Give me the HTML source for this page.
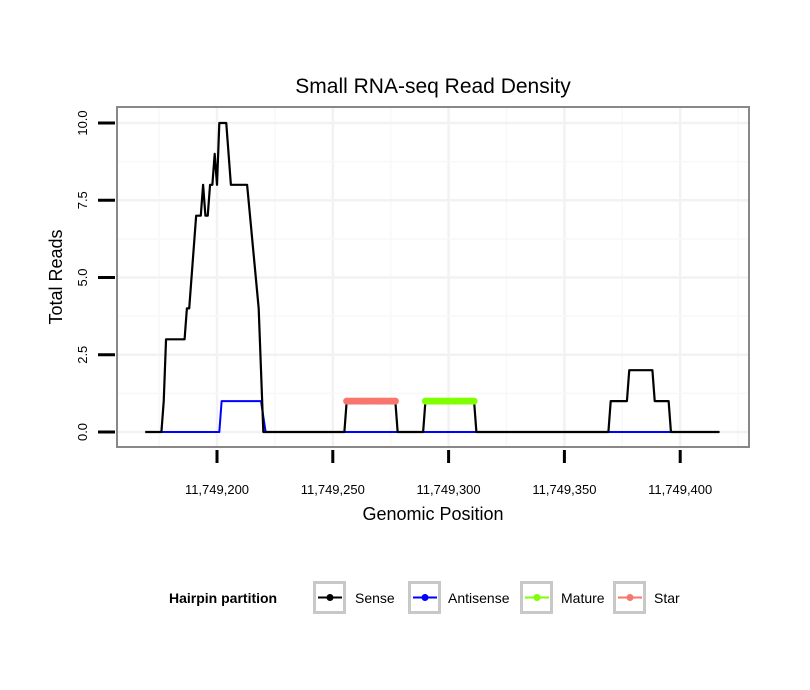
<!DOCTYPE html>
<html><head><meta charset="utf-8"><style>
body{margin:0;background:#fff;}
svg{display:block;font-family:"Liberation Sans",Arial,sans-serif;}
</style></head><body>
<svg id="chart" width="810" height="690">
<text x="433" y="93" font-size="21" text-anchor="middle">Small RNA-seq Read Density</text>
<g id="grid"></g>
<rect x="117" y="107" width="632" height="340" fill="none" stroke="#888" stroke-width="2"/>
<g id="series"></g>
<g id="axes"></g>
<text x="433" y="520" font-size="18" text-anchor="middle">Genomic Position</text>
<text transform="translate(62,277) rotate(-90)" font-size="18" text-anchor="middle">Total Reads</text>
<g>
<text x="169" y="603" font-size="14" font-weight="bold">Hairpin partition</text>
<g id="legend-keys"></g>
</g>
</svg>
<script>
const xTicks=[11749200,11749250,11749300,11749350,11749400];
const yTicks=[0,2.5,5,7.5,10];
const senseX=[11749169,11749176,11749177,11749178,11749186,11749187,11749188,11749191,11749193,11749194,11749195,11749196,11749197,11749198,11749199,11749200,11749201,11749204,11749206,11749213,11749218,11749220,11749255,11749256,11749277,11749278,11749289,11749290,11749311,11749312,11749369,11749370,11749377,11749378,11749388,11749389,11749395,11749396,11749417];
const senseY=[0,0,1,3,3,4,4,7,7,8,7,7,8,8,9,8,10,10,8,8,4,0,0,1,1,0,0,1,1,0,0,1,1,2,2,1,1,0,0];
const antiX=[11749176,11749201,11749202,11749219,11749221,11749396];
const antiY=[0,0,1,1,0,0];
const starX=[11749256,11749257,11749258,11749259,11749260,11749261,11749262,11749263,11749264,11749265,11749266,11749267,11749268,11749269,11749270,11749271,11749272,11749273,11749274,11749275,11749276,11749277];
const starY=[1,1,1,1,1,1,1,1,1,1,1,1,1,1,1,1,1,1,1,1,1,1];
const matureX=[11749290,11749291,11749292,11749293,11749294,11749295,11749296,11749297,11749298,11749299,11749300,11749301,11749302,11749303,11749304,11749305,11749306,11749307,11749308,11749309,11749310,11749311];
const matureY=[1,1,1,1,1,1,1,1,1,1,1,1,1,1,1,1,1,1,1,1,1,1];
const legendLabels=["Sense","Antisense","Mature","Star"];
const legendColors=["#000","#0000ff","#7fff00","#f8766d"];

const NS="http://www.w3.org/2000/svg";
const X=v=>217+(v-11749200)*2.316;
const Y=v=>432-v*30.9;
function mk(tag,attrs,parent){const e=document.createElementNS(NS,tag);for(const k in attrs)e.setAttribute(k,attrs[k]);parent.appendChild(e);return e;}
const grid=document.getElementById('grid'),axes=document.getElementById('axes'),ser=document.getElementById('series');
for(let i=0;i<xTicks.length;i++){
  const l=mk('line',{x1:X(xTicks[i]),x2:X(xTicks[i]),y1:108,y2:446,stroke:'#f2f2f2','stroke-width':2.5},grid);
  
  const m=mk('line',{x1:X(xTicks[i]-25),x2:X(xTicks[i]-25),y1:108,y2:446,stroke:'#f8f8f8','stroke-width':1.5},grid);
  
}
const mm=mk('line',{x1:X(11749425),x2:X(11749425),y1:108,y2:446,stroke:'#f8f8f8','stroke-width':1.5},grid);

for(let i=0;i<yTicks.length;i++){
  const l=mk('line',{x1:118,x2:748,y1:Y(yTicks[i]),y2:Y(yTicks[i]),stroke:'#f2f2f2','stroke-width':2.5},grid);
  
  if(i>0){const m=mk('line',{x1:118,x2:748,y1:Y(yTicks[i]-1.25),y2:Y(yTicks[i]-1.25),stroke:'#f8f8f8','stroke-width':1.5},grid);
  }
}
xTicks.forEach(t=>{
  const l=mk('line',{x1:X(t),x2:X(t),y1:450,y2:463,stroke:'#000','stroke-width':3},axes);
  
  const tx=mk('text',{x:X(t),y:494,'font-size':13,'text-anchor':'middle'},axes);
  
  tx.textContent=t.toLocaleString('en-US');
});
yTicks.forEach(t=>{
  const l=mk('line',{x1:98,x2:115,y1:Y(t),y2:Y(t),stroke:'#000','stroke-width':3},axes);
  
  const tx=mk('text',{transform:`translate(87,${Y(t)}) rotate(-90)`,'font-size':13,'text-anchor':'middle'},axes);
  
  tx.textContent=t.toFixed(1);
});
function line(xs,ys,color,w,name){
  const p=mk('polyline',{points:xs.map((x,i)=>X(x)+','+Y(ys[i])).join(' '),fill:'none',stroke:color,'stroke-width':w,'stroke-linejoin':'round'},ser);
  
}
function dots(xs,ys,color,name){
  xs.forEach((x,i)=>{const c=mk('circle',{cx:X(x),cy:Y(ys[i]),r:3.5,fill:color},ser);
  });
}
line(antiX,antiY,'#0000ff',2,'antisense-line');
line(senseX,senseY,'#000',2.2,'sense-line');
line(starX,starY,'#f8766d',4,'star-line');dots(starX,starY,'#f8766d','star-point');
line(matureX,matureY,'#7fff00',4,'mature-line');dots(matureX,matureY,'#7fff00','mature-point');
const lk=document.getElementById('legend-keys');
const bx=[313,408,520,613],tx=[355,448,561,654];
legendLabels.forEach((lab,i)=>{
  const r=mk('rect',{x:bx[i]+1.5,y:582.5,width:30,height:30,fill:'#fff',stroke:'#c8c8c8','stroke-width':3},lk);
  
  mk('line',{x1:bx[i]+5,x2:bx[i]+29,y1:597.5,y2:597.5,stroke:legendColors[i],'stroke-width':2},lk);
  mk('circle',{cx:bx[i]+17,cy:597.5,r:3.5,fill:legendColors[i]},lk);
  const t=mk('text',{x:tx[i],y:603,'font-size':14},lk);
  
  t.textContent=lab;
});
</script>
</body></html>
